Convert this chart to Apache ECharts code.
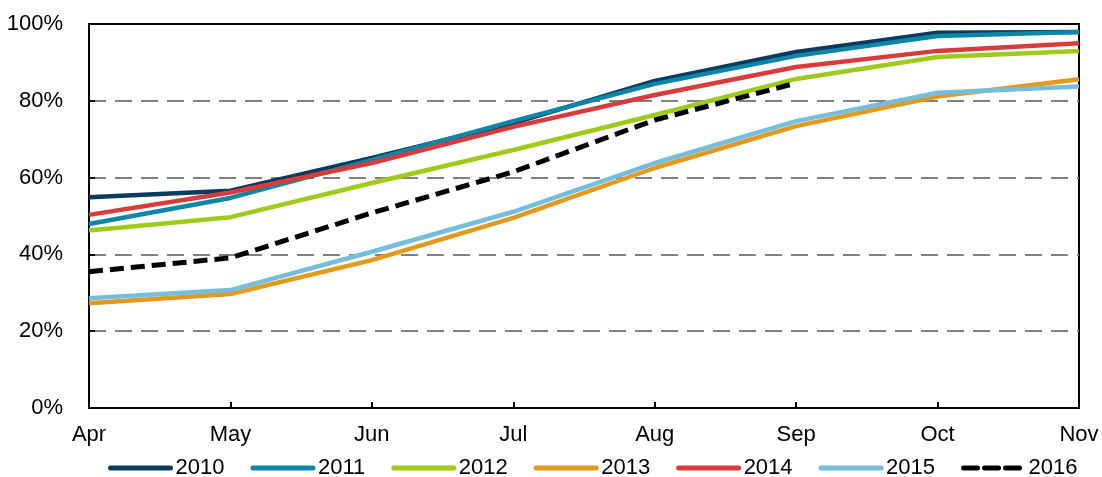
<!DOCTYPE html>
<html>
<head>
<meta charset="utf-8">
<script src="https://cdn.jsdelivr.net/npm/echarts@6/dist/echarts.min.js"></script>
<style>
  html, body { margin: 0; padding: 0; background: #fff; }
  #chart { width: 1102px; height: 477px; }
</style>
</head>
<body>
<div id="chart"></div>
<script>
// Months on the horizontal axis
var months = ['Apr', 'May', 'Jun', 'Jul', 'Aug', 'Sep', 'Oct', 'Nov'];

// Cumulative share per year (%)
var y2010 = [54.9, 56.6, 65.1, 74.2, 85.2, 92.7, 97.7, 97.9];
var y2011 = [47.9, 54.7, 64.6, 74.7, 84.4, 91.7, 96.9, 97.9];
var y2012 = [46.2, 49.7, 58.6, 67.2, 76.3, 85.7, 91.4, 93.0];
var y2013 = [27.3, 29.7, 38.5, 49.5, 62.5, 73.4, 81.1, 85.6];
var y2014 = [50.3, 56.1, 63.8, 73.2, 81.5, 88.8, 93.0, 95.0];
var y2015 = [28.6, 30.7, 40.7, 51.1, 63.8, 74.7, 82.1, 83.7];
var y2016 = [35.5, 39.1, 50.8, 61.5, 75.0, 84.6];

var yearNames = ['2010', '2011', '2012', '2013', '2014', '2015', '2016'];
var yearData = [y2010, y2011, y2012, y2013, y2014, y2015, y2016];
var yearColors = ['#0b3a5e', '#0b86a8', '#9dcb1a', '#e2991c', '#d83b3b', '#74bddc', '#000000'];

var FONT = "'Liberation Sans', Arial, sans-serif";

var series = yearNames.map(function (name, i) {
  var dashed = name === '2016';
  return {
    name: name,
    type: 'line',
    data: yearData[i],
    symbol: 'none',
    showSymbol: false,
    smooth: false,
    color: yearColors[i],
    lineStyle: {
      color: yearColors[i],
      width: dashed ? 5 : 4.5,
      type: dashed ? [14, 7] : 'solid',
      cap: 'butt'
    },
    emphasis: { disabled: true },
    animation: false
  };
});

var chart = echarts.init(document.getElementById('chart'), null, { renderer: 'canvas' });
chart.setOption({
  backgroundColor: '#ffffff',
  animation: false,
  grid: {
    left: 89, right: 23, top: 24, bottom: 69,
    outerBoundsMode: 'none',
    containLabel: false,
    show: true, borderColor: '#000', borderWidth: 2, backgroundColor: 'transparent'
  },
  legend: {
    data: yearNames,
    icon: 'inherit',
    left: 103,
    top: 452,
    itemWidth: 60,
    itemHeight: 14,
    itemGap: 26,
    itemStyle: { opacity: 0 },
    lineStyle: { width: 5, cap: 'round', opacity: 1 },
    textStyle: { fontFamily: FONT, fontSize: 22, color: '#000' },
    selectedMode: false
  },
  xAxis: {
    type: 'category',
    data: months,
    boundaryGap: false,
    axisLine: { lineStyle: { color: '#000', width: 2 } },
    axisTick: { show: true, inside: true, length: 6, lineStyle: { color: '#000', width: 2 } },
    axisLabel: { fontFamily: FONT, fontSize: 22, color: '#000', margin: 16 },
    splitLine: { show: false }
  },
  yAxis: {
    type: 'value',
    min: 0, max: 100, interval: 20,
    axisLine: { show: true, lineStyle: { color: '#000', width: 2 } },
    axisTick: { show: true, inside: true, length: 6, lineStyle: { color: '#000', width: 2 } },
    axisLabel: {
      fontFamily: FONT, fontSize: 22, color: '#000', margin: 26,
      formatter: function (v) { return v + '%'; }
    },
    splitLine: {
      show: true, showMinLine: false, showMaxLine: false,
      lineStyle: { color: '#808080', width: 2, type: [17, 9] }
    }
  },
  series: series
});
</script>
</body>
</html>
